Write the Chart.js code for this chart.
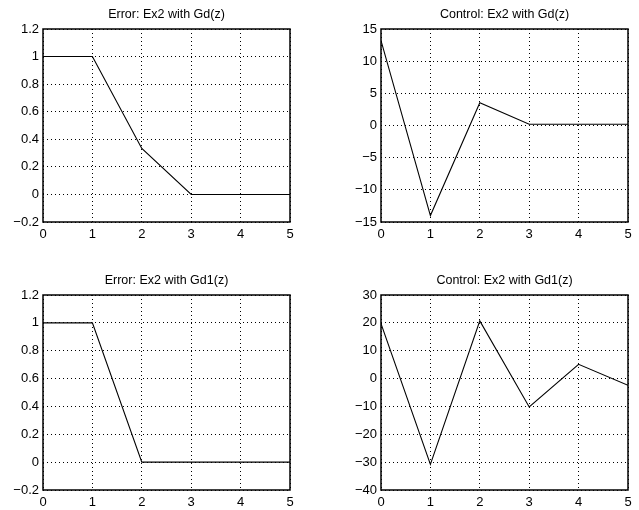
<!DOCTYPE html>
<html><head><meta charset="utf-8">
<script src="https://cdn.jsdelivr.net/npm/chart.js@4.4.0/dist/chart.umd.min.js"></script>
<style>
html,body{margin:0;padding:0;background:#fff;}
#wrap{position:relative;width:639px;height:510px;background:#fff;}
canvas{position:absolute;left:0;top:0;}
</style></head><body>
<div id="wrap">
<canvas id="c1"></canvas>
<canvas id="c2"></canvas>
<canvas id="c3"></canvas>
<canvas id="c4"></canvas>
</div>
<script>
// ---- data ----
const steps = [0, 1, 2, 3, 4, 5];
const errorGd = [1, 1, 0.333, 0, 0, 0];
const controlGd = [13.2, -14.0, 3.55, 0.2, 0.2, 0.2];
const errorGd1 = [1, 1, 0, 0, 0, 0];
const controlGd1 = [19.7, -30.8, 20.7, -10.2, 5.1, -2.4];
const xTicks = [0, 1, 2, 3, 4, 5];
const yTicksError = [-0.2, 0, 0.2, 0.4, 0.6, 0.8, 1, 1.2];
const yTicksControlGd = [-15, -10, -5, 0, 5, 10, 15];
const yTicksControlGd1 = [-40, -30, -20, -10, 0, 10, 20, 30];
const titles = ['Error: Ex2 with Gd(z)', 'Control: Ex2 with Gd(z)', 'Error: Ex2 with Gd1(z)', 'Control: Ex2 with Gd1(z)'];

const W = 639, H = 510;
const FONT = 'Liberation Sans, Arial, Helvetica, sans-serif';
const YW = 40, XH = 20;

function fmt(v) {
  const s = String(Math.round(v * 1000) / 1000);
  return s.replace('-', '\u2212');
}

const framePlugin = {
  id: 'frame',
  afterDraw(chart, args, opts) {
    const a = chart.chartArea, ctx = chart.ctx;
    ctx.save();
    ctx.strokeStyle = '#000';
    ctx.lineWidth = 1.5;
    ctx.strokeRect(a.left, a.top, a.right - a.left, a.bottom - a.top);
    ctx.fillStyle = '#000';
    ctx.font = '12.5px ' + FONT;
    ctx.textAlign = 'center';
    ctx.textBaseline = 'middle';
    ctx.fillText(opts.text, (a.left + a.right) / 2, a.top - 14);
    ctx.restore();
  }
};

function makeChart(id, title, values, yTicks, area) {
  const pts = steps.map((x, i) => ({x: x, y: values[i]}));
  const cv = document.getElementById(id);
  return new Chart(cv, {
    type: 'line',
    data: { datasets: [{ data: pts, borderColor: '#000', borderWidth: 1.1, pointRadius: 0, fill: false, tension: 0 }] },
    options: {
      responsive: false, animation: false, events: [],
      layout: { padding: { left: area.l - YW, right: W - area.r, top: area.t, bottom: H - area.b - XH } },
      plugins: { legend: { display: false }, tooltip: { enabled: false }, frame: { text: title } },
      scales: {
        x: {
          type: 'linear', min: xTicks[0], max: xTicks[xTicks.length - 1],
          afterBuildTicks(s) { s.ticks = xTicks.map(v => ({value: v})); },
          afterFit(s) { s.height = XH; },
          grid: { color: '#000', lineWidth: 1, drawTicks: false },
          border: { display: false, dash: [1, 3] },
          ticks: { color: '#000', padding: 5, font: { family: FONT, size: 13 }, callback: v => fmt(v), maxRotation: 0, autoSkip: false }
        },
        y: {
          type: 'linear', min: yTicks[0], max: yTicks[yTicks.length - 1],
          afterBuildTicks(s) { s.ticks = yTicks.map(v => ({value: v})); },
          afterFit(s) { s.width = YW; },
          grid: { color: '#000', lineWidth: 1, drawTicks: false },
          border: { display: false, dash: [1, 3] },
          ticks: { color: '#000', padding: 4, font: { family: FONT, size: 13 }, callback: v => fmt(v), autoSkip: false }
        }
      }
    },
    plugins: [framePlugin]
  });
}

[1,2,3,4].forEach(i => { const c = document.getElementById('c' + i); c.width = W; c.height = H; c.style.width = W + 'px'; c.style.height = H + 'px'; });

makeChart('c1', titles[0], errorGd, yTicksError, {l: 43, r: 290, t: 29, b: 222});
makeChart('c2', titles[1], controlGd, yTicksControlGd, {l: 381, r: 628, t: 29, b: 222});
makeChart('c3', titles[2], errorGd1, yTicksError, {l: 43, r: 290, t: 295, b: 490});
makeChart('c4', titles[3], controlGd1, yTicksControlGd1, {l: 381, r: 628, t: 295, b: 490});
</script>
</body></html>
